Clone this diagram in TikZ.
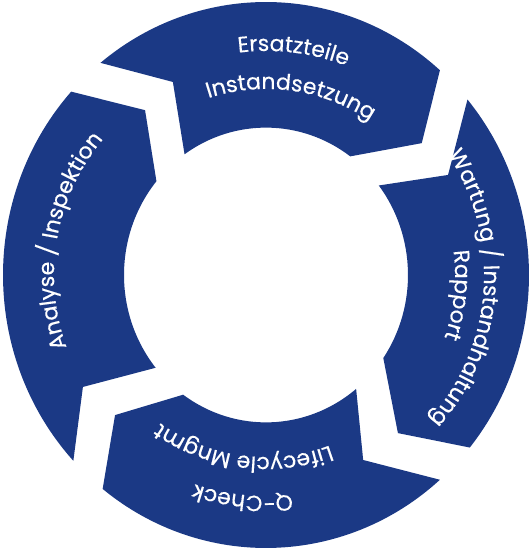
\documentclass[tikz,border=0pt]{standalone}
\usepackage{fontspec}
\setmainfont{Poppins}
\newfontfamily\segff{Poppins}[FakeBold=0.4]
\usetikzlibrary{decorations.text}
\definecolor{ringblue}{RGB}{27,57,133}
\newcommand\segfont{\segff\fontsize{22}{26}\selectfont}
\tikzset{
  segfill/.style={fill=ringblue},
  curvetext/.style={decorate, decoration={text along path, text align=center, text color=white, text={|\segfont|#1}}}
}
\begin{document}
\begin{tikzpicture}[x=1pt,y=1pt]
\useasboundingbox (-266,-276) rectangle (266,275);
\begin{scope}[yscale=1.038]
% Ersatzteile / Instandsetzung
\fill[segfill] (129:263pt) -- (116.6:208pt) -- (125:142pt)
  arc[start angle=125, end angle=53.6, radius=142pt] -- (39.2:201pt) -- (48.6:263pt)
  arc[start angle=48.6, end angle=129, radius=263pt] -- cycle;
% Wartung / Instandhaltung
\fill[segfill] (40:263pt) -- (27.9:206pt) -- (37.4:142pt)
  arc[start angle=37.4, end angle=-34.3, radius=142pt] -- (-49.1:201.5pt) -- (-39.2:263pt)
  arc[start angle=-39.2, end angle=40, radius=263pt] -- cycle;
% Q-Check
\fill[segfill] (311.4:263pt) -- (298.6:203pt) -- (309.4:142pt)
  arc[start angle=309.4, end angle=234.3, radius=142pt] -- (221.8:202.5pt) -- (231.6:263pt)
  arc[start angle=231.6, end angle=311.4, radius=263pt] -- cycle;
% Analyse / Inspektion
\fill[segfill] (222.9:263pt) -- (210.5:212.5pt) -- (219:142pt)
  arc[start angle=219, end angle=140.5, radius=142pt] -- (127.3:199.6pt) -- (137.8:263pt)
  arc[start angle=137.8, end angle=222.9, radius=263pt] -- cycle;
\end{scope}
% texts
\path[curvetext=Ersatzteile] (153:224pt) arc[start angle=153, end angle=13, radius=224pt];
\path[curvetext=Instandsetzung] (152:186pt) arc[start angle=152, end angle=12, radius=186pt];
\path[curvetext=Wartung / Instandhaltung] (66:218pt) arc[start angle=66, end angle=-74, radius=218pt];
\path[curvetext=Rapport] (64:189pt) arc[start angle=64, end angle=-76, radius=189pt];
\path[curvetext=Q-Check] (-26:221pt) arc[start angle=-26, end angle=-166, radius=221pt];
\path[curvetext=Lifecycle Mngmt] (-27.5:182pt) arc[start angle=-27.5, end angle=-167.5, radius=182pt];
\path[curvetext=Analyse / Inspektion] (240:212pt) arc[start angle=240, end angle=100, radius=212pt];
\end{tikzpicture}
\end{document}
